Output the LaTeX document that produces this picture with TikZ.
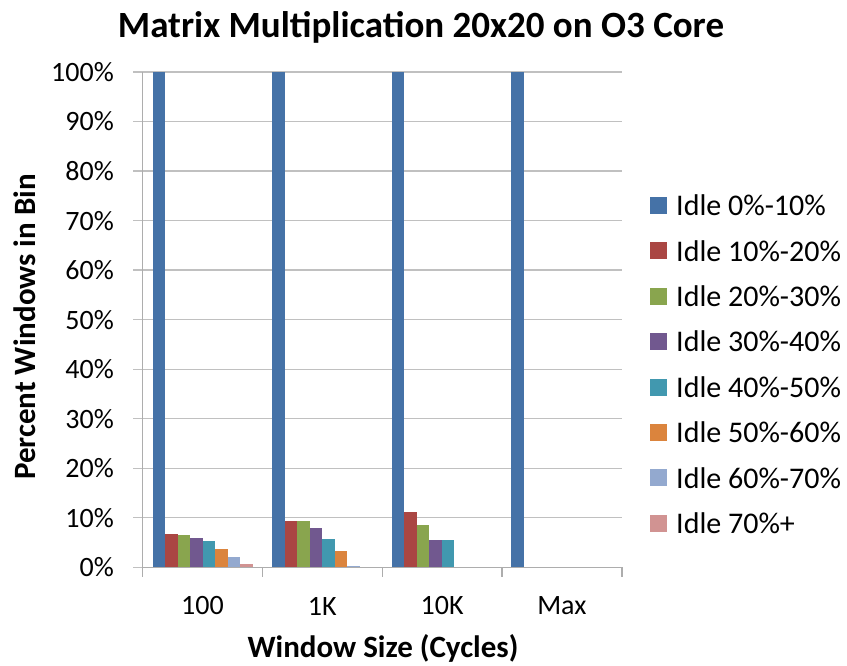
\documentclass[tikz,border=0pt]{standalone}
\usepackage{fontspec}
\setmainfont{Carlito}
\definecolor{barc0}{HTML}{4572A7}
\definecolor{barc1}{HTML}{AA4643}
\definecolor{barc2}{HTML}{89A54E}
\definecolor{barc3}{HTML}{71588F}
\definecolor{barc4}{HTML}{4198AF}
\definecolor{barc5}{HTML}{DB843D}
\definecolor{barc6}{HTML}{93A9CF}
\definecolor{barc7}{HTML}{D19392}
\definecolor{gridgray}{HTML}{C0C0C0}
\tikzset{
  gridline/.style={gridgray,line width=1.3pt},
  axisline/.style={gridgray!90!black,line width=1.3pt},
  ticklabel/.style={font=\fontsize{28}{30}\selectfont,inner sep=0pt},
  axistitle/.style={font=\fontsize{31}{34}\selectfont\bfseries,inner sep=0pt},
  legendtext/.style={font=\fontsize{30}{32}\selectfont,anchor=west,inner sep=0pt},
}
\begin{document}
\begin{tikzpicture}[x=1pt,y=-1pt]
\useasboundingbox (0,0) rectangle (847,665);
\node[font=\fontsize{37}{40}\selectfont\bfseries,inner sep=0pt] (title) at (421,27) {Matrix Multiplication 20x20 on O3 Core};
% grid and y ticks
\foreach \p in {0,10,...,100}
{
\draw[gridline] (133,{567.3-4.953*\p}) -- (622,{567.3-4.953*\p});
\node[ticklabel,anchor=east] (ylab\p) at (114,{567.3-4.953*\p}) {\p\%};
}
% bars
\foreach \g/\vals in {0/{100,6.65,6.45,6.0,5.3,3.6,2.1,0.75},
                      1/{100,9.4,9.4,8.0,5.7,3.2,0.2,0},
                      2/{100,11.2,8.5,5.6,5.6,0,0,0},
                      3/{100,0,0,0,0,0,0,0}}
\foreach \v [count=\i from 0] in \vals
\fill[barc\i] ({152.5+119.6*\g+12.5*\i},567.3) rectangle ({165+119.6*\g+12.5*\i},{567.3-4.953*\v});
% axes
\draw[axisline] (142.7,72) -- (142.7,567.3) -- (622,567.3);
\foreach \k in {0,...,4}
\draw[axisline] ({142.7+119.8*\k},567.3) -- ({142.7+119.8*\k},577);
\foreach \n/\t [count=\k from 0] in {c1/100,c2/1K,c3/10K,c4/Max}
\node[ticklabel] (\n) at ({202.5+119.8*\k},606) {\t};
\node[axistitle] (xtitle) at (383,648) {Window Size (Cycles)};
\node[axistitle,rotate=90] (ytitle) at (25,327) {Percent Windows in Bin};
% legend
\foreach \t [count=\i from 0] in {Idle 0\%-10\%,Idle 10\%-20\%,Idle 20\%-30\%,Idle 30\%-40\%,Idle 40\%-50\%,Idle 50\%-60\%,Idle 60\%-70\%,Idle 70\%+}
{
\fill[barc\i] (650,{197+45.4*\i}) rectangle (667,{214+45.4*\i});
\node[legendtext] (leg\i) at (676,{205.5+45.4*\i}) {\t};
}
\end{tikzpicture}
\end{document}
